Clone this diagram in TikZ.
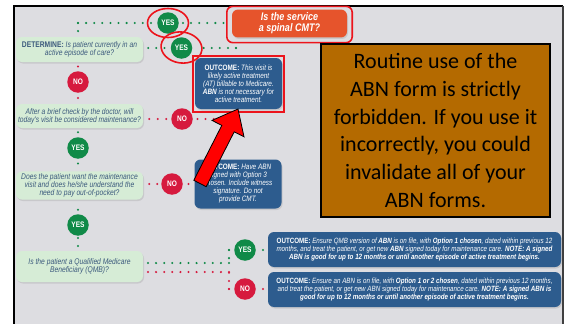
\documentclass[tikz,border=0pt]{standalone}
\usepackage{fontspec}
\setmainfont{Liberation Sans}
\newfontfamily\cond[FakeStretch=0.82]{Liberation Sans}
\newfontfamily\calib{Carlito}
\usetikzlibrary{shadows,calc}

\definecolor{bggray}{RGB}{221,221,225}
\definecolor{qgreen}{RGB}{214,236,214}
\definecolor{qtext}{RGB}{60,90,125}
\definecolor{ygreen}{RGB}{16,138,72}
\definecolor{nred}{RGB}{214,26,62}
\definecolor{oblue}{RGB}{45,92,142}
\definecolor{cmtorange}{RGB}{230,84,44}
\definecolor{hlred}{RGB}{236,20,28}
\definecolor{warnbrown}{RGB}{180,106,0}

\begin{document}
\begin{tikzpicture}[x=1pt,y=-1pt,
  qbox/.style={fill=qgreen, rounded corners=6pt, minimum width=127pt, align=center,
    inner sep=2pt, text=qtext, font=\cond\itshape\fontsize{8.2}{8.2}\selectfont,
    drop shadow={opacity=0.22, shadow xshift=1pt, shadow yshift=-1.5pt}},
  obox/.style={fill=oblue, rounded corners=6pt, align=center, inner sep=2pt, text=white,
    font=\cond\itshape\fontsize{7.8}{8}\selectfont,
    drop shadow={opacity=0.22, shadow xshift=1pt, shadow yshift=-1.5pt}},
  wide/.style={obox, minimum width=293pt, minimum height=35pt,
    font=\cond\itshape\fontsize{7.6}{8.4}\selectfont},
  yesc/.style={circle, fill=ygreen, text=white, minimum size=21.5pt, inner sep=0pt,
    font=\cond\bfseries\fontsize{8}{8}\selectfont},
  noc/.style={yesc, fill=nred},
  gdots/.style={draw=ygreen, line width=2.3pt, line cap=round, dash pattern=on 0pt off 8.1pt},
  rdots/.style={gdots, draw=nred},
  hl/.style={draw=hlred, line width=1.6pt}]

\useasboundingbox (0,0) rectangle (568,324);
\fill[white] (0,0) rectangle (568,324);
\fill[bggray] (14,6) rectangle (563,324);
\draw[line width=2pt] (14,324) -- (14,6) -- (563,6);
\draw[line width=1.2pt, black!75] (563,6) -- (563,324);

% question boxes
\node[qbox, minimum height=25pt] (det) at (79.5,49.5)
  {{\upshape\bfseries DETERMINE:} Is patient currently in an\\active episode of care?};
\node[qbox, minimum height=24pt] (q2) at (79.5,116)
  {After a brief check by the doctor, will\\today's visit be considered maintenance?};
\node[qbox, minimum height=28pt] (q3) at (79.5,185.5)
  {Does the patient want the maintenance\\visit and does he/she understand the\\need to pay out-of-pocket?};
\node[qbox, minimum height=31pt] (q4) at (79.5,266.5)
  {Is the patient a Qualified Medicare\\Beneficiary (QMB)?};

% title box
\node[fill=cmtorange, rounded corners=6pt, minimum width=115pt, minimum height=27pt,
  align=center, text=white, font=\cond\bfseries\itshape\fontsize{11}{11}\selectfont,
  drop shadow={opacity=0.22, shadow xshift=1pt, shadow yshift=-1.5pt}]
  (cmt) at (289.5,23.5) {Is the service\\a spinal CMT?};

% yes / no markers
\node[yesc] (yes1) at (168,23) {YES};
\node[yesc] (yes2) at (181.5,48) {YES};
\node[noc]  (no1)  at (78,82) {NO};
\node[noc]  (no2)  at (182,119) {NO};
\node[yesc] (yes3) at (78,148) {YES};
\node[noc]  (no3)  at (172,184) {NO};
\node[yesc] (yes4) at (78,225) {YES};
\node[yesc] (yesq) at (245,250) {YES};
\node[noc]  (noq)  at (245,289) {NO};

% outcome boxes
\node[obox, minimum width=87pt, minimum height=51pt] (o1) at (238.5,83.5)
  {{\upshape\bfseries OUTCOME:} This visit is\\likely active treatment\\(AT) billable to Medicare.\\{\bfseries ABN} is not necessary for\\active treatment.};
\node[obox, minimum width=87pt, minimum height=49pt] (o2) at (238,184)
  {{\upshape\bfseries OUTCOME:} Have ABN\\signed with Option 3\\chosen. Include witness\\signature. Do not\\provide CMT.};
\node[wide] (o3) at (414.5,249.5)
  {{\upshape\bfseries OUTCOME:} Ensure QMB version of {\bfseries ABN} is on file, with {\bfseries Option 1 chosen}, dated within previous 12\\months, and treat the patient, or get new {\bfseries ABN} signed today for maintenance care. {\bfseries NOTE: A signed}\\{\bfseries ABN is good for up to 12 months or until another episode of active treatment begins.}};
\node[wide] (o4) at (414.5,289.5)
  {{\upshape\bfseries OUTCOME:} Ensure an ABN is on file, with {\bfseries Option 1 or 2 chosen}, dated within previous 12 months,\\and treat the patient, or get new ABN signed today for maintenance care. {\bfseries NOTE: A signed ABN is}\\{\bfseries good for up to 12 months or until another episode of active treatment begins.}};

% corner points of the dotted paths
\coordinate (tl) at (78,23);
\coordinate (c2) at (236,48);
\coordinate (nend) at (224,119);
\coordinate (cg1) at (229,263);
\coordinate (cg2) at (229,250);
\coordinate (cr1) at (229,272);
\coordinate (cr2) at (229,289);

% dotted connectors
\draw[gdots, shorten >=4pt] (tl) -- (yes1);
\draw[gdots, shorten >=4pt] (tl) -- (tl |- det.north);
\draw[gdots, shorten <=4pt, shorten >=3pt] (yes1) -- (yes1 -| cmt.west);
\draw[gdots, shorten <=5pt, shorten >=3pt] (det.east |- yes2) -- (yes2);
\draw[gdots, shorten >=4pt] (c2) -- (yes2);
\draw[gdots, shorten >=3pt] (c2) -- (c2 |- o1.north);
\draw[rdots, shorten <=4.5pt, shorten >=3pt] (no1) -- (no1 |- det.south);
\draw[rdots, shorten <=5pt, shorten >=3pt] (no1) -- (no1 |- q2.north);
\draw[rdots, dash pattern=on 0pt off 8.5pt, shorten <=6pt, shorten >=3pt] (q2.east |- no2) -- (no2);
\draw[rdots, shorten <=4.5pt] (no2) -- (nend);
\draw[gdots, shorten <=4pt, shorten >=3pt] (q2.south -| yes3) -- (yes3);
\draw[gdots, shorten <=4.5pt, shorten >=3pt] (yes3) -- (yes3 |- q3.north);
\draw[rdots, shorten <=6pt, shorten >=3pt] (q3.east |- no3) -- (no3);
\draw[rdots, shorten <=5.5pt, shorten >=3pt] (no3) -- (no3 -| o2.west);
\draw[gdots, shorten <=10pt, shorten >=3pt] (q3.south -| yes4) -- (yes4);
\draw[gdots, shorten <=2pt, shorten >=3pt] (yes4) -- (yes4 |- q4.north);
\draw[gdots, shorten >=4pt] (cg1) -- (q4.east |- cg1);
\draw[gdots] (cg2) -- (cg1);
\draw[gdots, shorten >=4pt] (cg2) -- (yesq);
\draw[gdots, shorten <=7pt, shorten >=3pt] (yesq) -- (yesq -| o3.west);
\draw[rdots, shorten >=4pt] (cr1) -- (q4.east |- cr1);
\draw[rdots] (cr2) -- (cr1);
\draw[rdots, shorten >=4pt] (cr2) -- (noq);
\draw[rdots, shorten <=7pt, shorten >=3pt] (noq) -- (noq -| o4.west);

% red highlights
\draw[hl, rounded corners=6pt] ($(cmt.north west)+(-5,-3)$) rectangle ($(cmt.south east)+(5,5)$);
\draw[hl] (yes1) ellipse [x radius=20.5pt, y radius=14.5pt];
\draw[hl, rotate around={-8:(181.5,47.5)}] (181.5,47.5) ellipse [x radius=20.5pt, y radius=15.5pt];
\draw[hl] ($(o1.north west)+(-2,-2)$) rectangle ($(o1.south east)+(2,3)$);

% pointer arrow
\draw[fill=red, draw=black, line width=0.8pt, line join=miter]
  (206.2,186.7) -- (234.2,131.8) -- (244,136.8) -- (238,109) -- (212,120.4)
  -- (221.8,125.4) -- (193.8,180.3) -- cycle;

% warning box
\node[draw=black, line width=1.6pt, fill=warnbrown, minimum width=229pt, minimum height=173pt,
  align=center, font=\calib\fontsize{22}{27.8}\selectfont] (warn) at (435.5,130.5)
  {Routine use of the\\ABN form is strictly\\forbidden. If you use it\\incorrectly, you could\\invalidate all of your\\ABN forms.};
\end{tikzpicture}
\end{document}
